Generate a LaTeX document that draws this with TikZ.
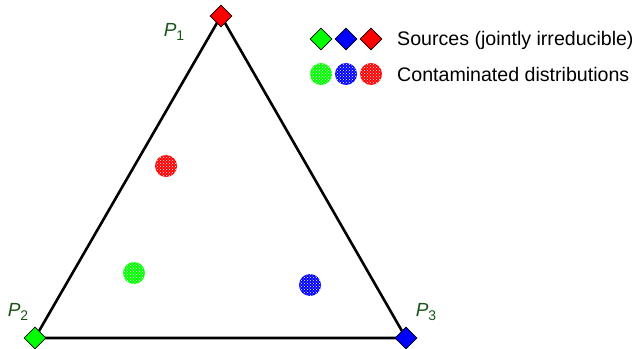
\documentclass[tikz,border=0pt]{standalone}
\usepackage{fontspec}
\setmainfont{Liberation Sans}
\usetikzlibrary{shapes.geometric,patterns}
\definecolor{lblgreen}{RGB}{25,85,25}
\definecolor{dgreen}{RGB}{0,255,0}
\definecolor{dblue}{RGB}{0,0,255}
\definecolor{dred}{RGB}{255,0,0}
\tikzset{
  src/.style={diamond,draw=black,line width=0.8pt,fill=#1,inner sep=0pt,minimum size=22pt},
  mix/.style={circle,fill=#1,inner sep=0pt,minimum size=22pt,
    postaction={pattern=crosshatch dots,pattern color=white}},
  edge/.style={line width=2.6pt,black},
  plabel/.style={text=lblgreen,font=\fontsize{19}{22}\selectfont},
  legtext/.style={anchor=west,inner sep=0pt,font=\fontsize{19.6}{23}\selectfont}
}
\newcommand{\plab}[1]{\textit{P}\raisebox{-0.35ex}{\fontsize{14}{16}\selectfont #1}}
\begin{document}
\begin{tikzpicture}[x=1pt,y=-1pt]
\useasboundingbox (0,0) rectangle (636,348);
\coordinate (c1) at (221,16);
\coordinate (c2) at (35,338);
\coordinate (c3) at (406,338);
\draw[edge,line join=miter] (c1) -- (c2) -- (c3) -- cycle;
\node[src=dred] (v1) at (c1) {};
\node[src=dgreen] (v2) at (c2) {};
\node[src=dblue] (v3) at (c3) {};
\node[plabel] (l1) at (174,32) {\plab{1}};
\node[plabel] (l2) at (18,312) {\plab{2}};
\node[plabel] (l3) at (426,312) {\plab{3}};
\node[mix=dred] (m1) at (166,166) {};
\node[mix=dgreen] (m2) at (134,273) {};
\node[mix=dblue] (m3) at (310,285) {};
% legend
\node[src=dgreen] (ld1) at (321,39) {};
\node[src=dblue] (ld2) at (346,39) {};
\node[src=dred] (ld3) at (371,39) {};
\node[mix=dgreen] (lc1) at (321,74) {};
\node[mix=dblue] (lc2) at (346,74) {};
\node[mix=dred] (lc3) at (371,74) {};
\node[legtext] (t1) at (397,40) {Sources (jointly irreducible)};
\node[legtext] (t2) at (397,74) {Contaminated distributions};
\end{tikzpicture}
\end{document}
